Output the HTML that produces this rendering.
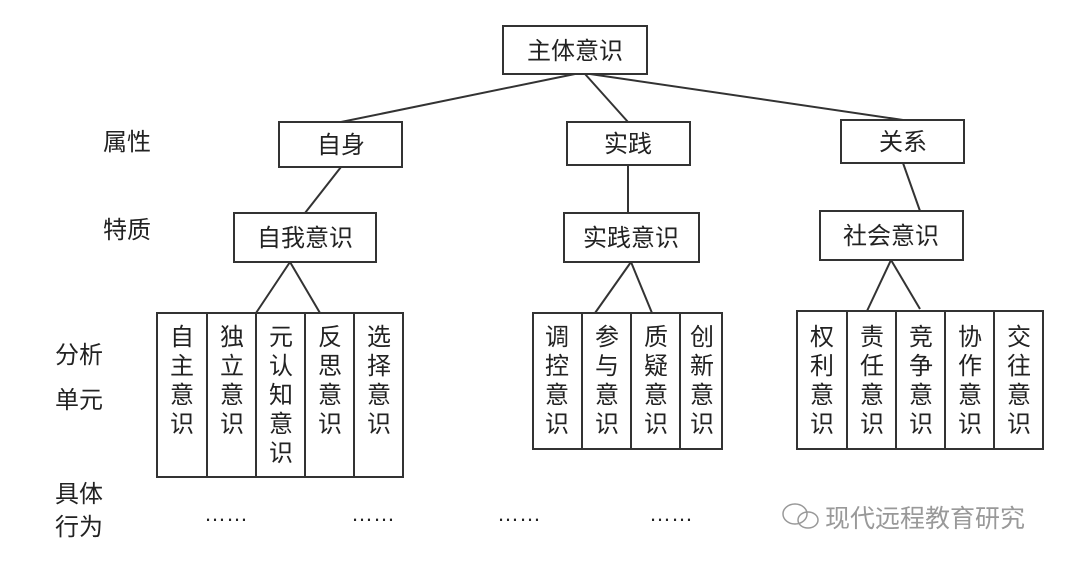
<!DOCTYPE html>
<html><head><meta charset="utf-8"><style>
body{margin:0;background:#fff;}
svg text{font-family:"Liberation Sans","Noto Sans CJK SC",sans-serif;fill:#222;}
</style></head><body>
<svg width="1068" height="564" viewBox="0 0 1068 564" xmlns="http://www.w3.org/2000/svg">
<g stroke="#333" stroke-width="2" fill="none">
<line x1="575" y1="74" x2="341" y2="122"/><line x1="585" y1="74" x2="628" y2="122"/><line x1="590" y1="74" x2="903" y2="120"/>
<line x1="341" y1="167" x2="305" y2="213"/><line x1="628" y1="165" x2="628" y2="213"/><line x1="903" y1="163" x2="920" y2="211"/>
<line x1="290" y1="262" x2="256" y2="313"/><line x1="290" y1="262" x2="320" y2="313"/>
<line x1="631" y1="262" x2="595" y2="313"/><line x1="631" y1="262" x2="652" y2="313"/>
<line x1="891" y1="260" x2="867" y2="311"/><line x1="891" y1="260" x2="920" y2="309"/>
<rect x="503" y="26" width="144" height="48"/>
<rect x="279" y="122" width="123" height="45"/><rect x="567" y="122" width="123" height="43"/><rect x="841" y="120" width="123" height="43"/>
<rect x="234" y="213" width="142" height="49"/><rect x="564" y="213" width="135" height="49"/><rect x="820" y="211" width="143" height="49"/>
<rect x="157" y="313" width="246" height="164"/>
<line x1="207" y1="313" x2="207" y2="477"/><line x1="256" y1="313" x2="256" y2="477"/><line x1="305" y1="313" x2="305" y2="477"/><line x1="354" y1="313" x2="354" y2="477"/>
<rect x="533" y="313" width="189" height="136"/>
<line x1="582" y1="313" x2="582" y2="449"/><line x1="631" y1="313" x2="631" y2="449"/><line x1="680" y1="313" x2="680" y2="449"/>
<rect x="797" y="311" width="246" height="138"/>
<line x1="847" y1="311" x2="847" y2="449"/><line x1="896" y1="311" x2="896" y2="449"/><line x1="945" y1="311" x2="945" y2="449"/><line x1="994" y1="311" x2="994" y2="449"/>
</g>
<g font-size="24" text-anchor="middle">
<text x="575" y="59">主体意识</text>
<text x="341" y="153">自身</text><text x="628" y="152">实践</text><text x="903" y="150">关系</text>
<text x="305" y="246">自我意识</text><text x="631" y="246">实践意识</text><text x="891" y="244">社会意识</text>
</g>
<g font-size="24">
<text x="103" y="150">属性</text><text x="103" y="238">特质</text>
<text x="55" y="363">分析</text><text x="55" y="408">单元</text>
<text x="55" y="502">具体</text><text x="55" y="535">行为</text>
</g>
<g font-size="24" text-anchor="middle">
<text x="182" y="345">自</text><text x="182" y="374">主</text><text x="182" y="403">意</text><text x="182" y="432">识</text>
<text x="232" y="345">独</text><text x="232" y="374">立</text><text x="232" y="403">意</text><text x="232" y="432">识</text>
<text x="281" y="345">元</text><text x="281" y="374">认</text><text x="281" y="403">知</text><text x="281" y="432">意</text><text x="281" y="461">识</text>
<text x="330" y="345">反</text><text x="330" y="374">思</text><text x="330" y="403">意</text><text x="330" y="432">识</text>
<text x="379" y="345">选</text><text x="379" y="374">择</text><text x="379" y="403">意</text><text x="379" y="432">识</text>
<text x="557" y="345">调</text><text x="557" y="374">控</text><text x="557" y="403">意</text><text x="557" y="432">识</text>
<text x="607" y="345">参</text><text x="607" y="374">与</text><text x="607" y="403">意</text><text x="607" y="432">识</text>
<text x="656" y="345">质</text><text x="656" y="374">疑</text><text x="656" y="403">意</text><text x="656" y="432">识</text>
<text x="702" y="345">创</text><text x="702" y="374">新</text><text x="702" y="403">意</text><text x="702" y="432">识</text>
<text x="822" y="345">权</text><text x="822" y="374">利</text><text x="822" y="403">意</text><text x="822" y="432">识</text>
<text x="872" y="345">责</text><text x="872" y="374">任</text><text x="872" y="403">意</text><text x="872" y="432">识</text>
<text x="921" y="345">竞</text><text x="921" y="374">争</text><text x="921" y="403">意</text><text x="921" y="432">识</text>
<text x="970" y="345">协</text><text x="970" y="374">作</text><text x="970" y="403">意</text><text x="970" y="432">识</text>
<text x="1019" y="345">交</text><text x="1019" y="374">往</text><text x="1019" y="403">意</text><text x="1019" y="432">识</text>
</g>
<g font-size="22" fill="#222">
<text x="204" y="521">……</text><text x="351" y="521">……</text><text x="497" y="521">……</text><text x="649" y="521">……</text>
</g>
<g fill="none" stroke="#999" stroke-width="1.5"><ellipse cx="795" cy="514" rx="12" ry="10"/><ellipse cx="808" cy="520" rx="10" ry="8"/></g>
<text x="825" y="527" font-size="25" style="fill:#999">现代远程教育研究</text>
</svg>
</body></html>
